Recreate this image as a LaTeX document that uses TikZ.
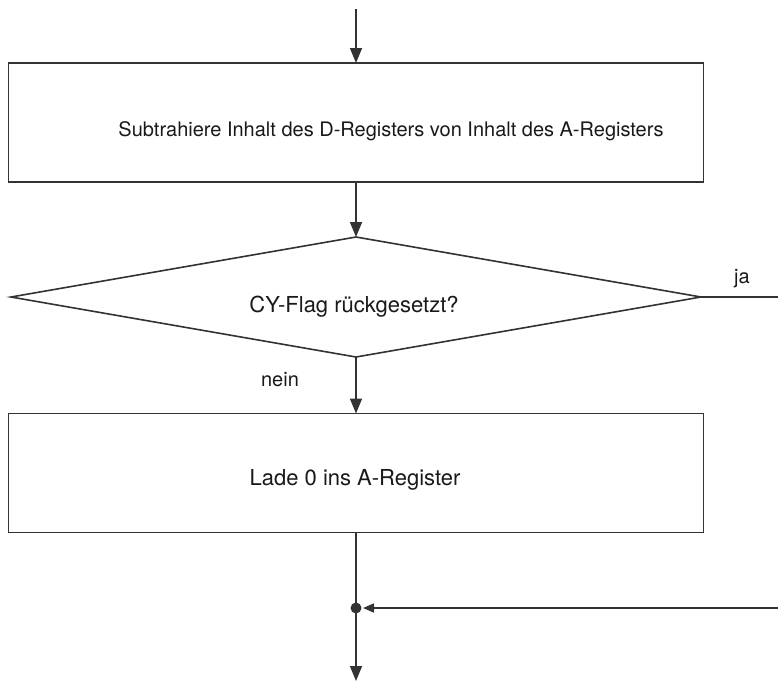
\documentclass[tikz,border=0pt]{standalone}
\usepackage{fontspec}
\setmainfont{TeX Gyre Heros}
\usetikzlibrary{arrows.meta,shapes.geometric}
\begin{document}
\begin{tikzpicture}[x=1pt,y=-1pt,
  line width=1.6pt, draw=black!80,
  flow/.style={-{Triangle[width=12pt,length=15pt]}},
  flowsmall/.style={-{Triangle[width=9pt,length=11pt]}},
  procbox/.style={draw, rectangle, inner sep=0pt, outer sep=0pt,
    minimum width=695pt, minimum height=119pt},
  decision/.style={draw, diamond, inner sep=0pt, outer sep=0pt,
    minimum width=690pt, minimum height=120pt},
  txt/.style={font=\fontsize{22}{26}\selectfont, text=black!90, anchor=base, inner sep=0pt},
  widetxt/.style={font=\fontsize{20}{24}\selectfont, text=black!90, anchor=base, inner sep=0pt},
  lbl/.style={font=\fontsize{20}{24}\selectfont, text=black!90, anchor=base, inner sep=0pt}]
  \useasboundingbox (0,0) rectangle (778,681);

  % process boxes and decision
  \node[procbox] (sub) at (356,122.5) {};
  \node[decision] (cy) at (356,297) {};
  \node[procbox] (lade) at (356,473) {};

  % texts
  \node[widetxt] (subtxt) at (391,136) {Subtrahiere Inhalt des D-Registers von Inhalt des A-Registers};
  \node[txt] (cytxt) at (354,312) {CY-Flag rückgesetzt?};
  \node[txt] (ladetxt) at (355,485) {Lade 0 ins A-Register};
  \node[lbl] (ja) at (742,283) {ja};
  \node[lbl] (nein) at (280,386) {nein};

  % free ends and junction
  \coordinate (in) at (356,9);
  \coordinate (jaend) at (778,297);
  \coordinate (j) at (356,608);
  \coordinate (back) at (778,608);
  \coordinate (out) at (356,681);

  % connectors
  \draw[flow] (in) -- (sub.north);
  \draw[flow] (sub.south) -- (cy.north);
  \draw (cy.east) -- (jaend);
  \draw[flow] (cy.south) -- (lade.north);
  \draw (lade.south) -- (j);
  \draw[flowsmall, shorten >=7pt] (back) -- (j);
  \draw[flow] (j) -- (out);
  \fill[black!80] (j) circle (5.5pt);
\end{tikzpicture}
\end{document}
